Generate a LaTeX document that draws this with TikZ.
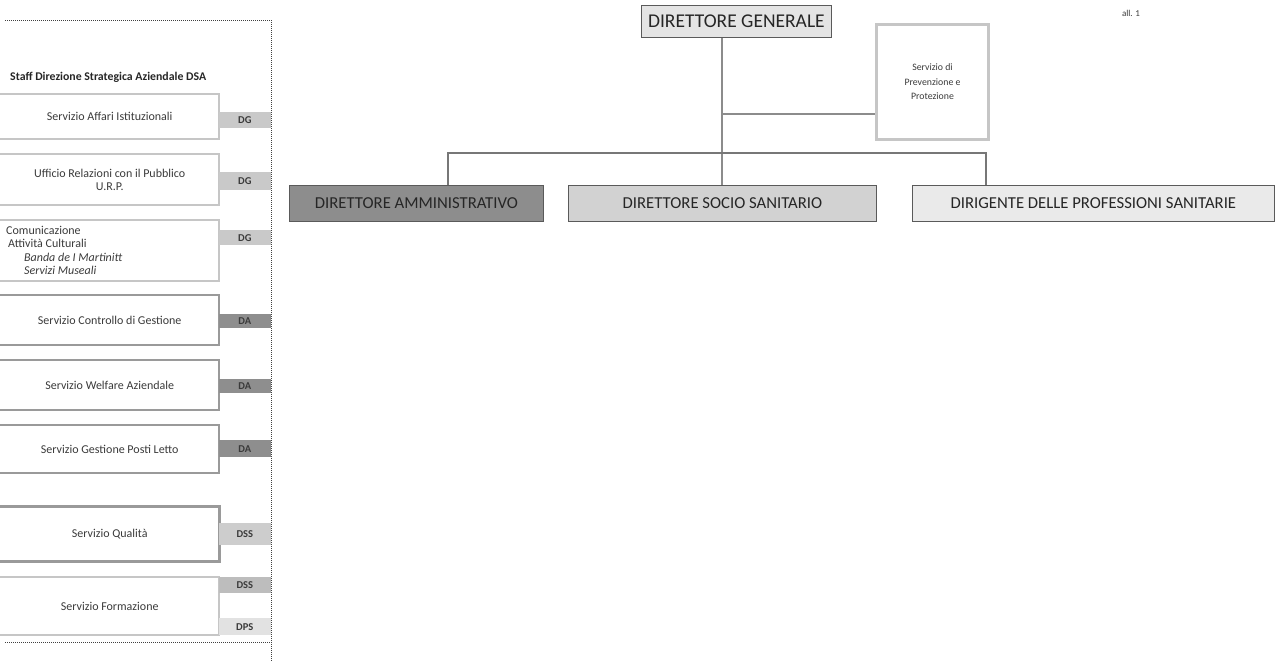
\documentclass[tikz,border=0pt]{standalone}
\usepackage{fontspec}
\setmainfont{Carlito}
\usetikzlibrary{positioning}

\definecolor{txtgray}{HTML}{3A3A3A}
\definecolor{txtdark}{HTML}{262626}
\definecolor{edgelight}{HTML}{C6C6C6}
\definecolor{edgedark}{HTML}{9A9A9A}
\definecolor{boxedge}{HTML}{5A5A5A}
\definecolor{linkgray}{HTML}{8C8C8C}
\definecolor{tagDG}{HTML}{C9C9C9}
\definecolor{tagDA}{HTML}{8E8E8E}
\definecolor{tagDSS}{HTML}{CDCDCD}
\definecolor{tagDPS}{HTML}{E2E2E2}
\definecolor{fillDG}{HTML}{E4E4E4}
\definecolor{fillDA}{HTML}{8D8D8D}
\definecolor{fillDSS}{HTML}{D2D2D2}
\definecolor{fillDPS}{HTML}{EAEAEA}

\begin{document}
\begin{tikzpicture}[x=1pt,y=-1pt,
  staffbox/.style={minimum width=219pt, inner sep=0pt, anchor=north west,
    font=\fontsize{12}{13.5}\selectfont, text=txtgray, align=center},
  tagbox/.style={minimum width=52pt, inner sep=0pt, anchor=north east,
    font=\fontsize{10.5}{11}\selectfont\bfseries, text=txtgray},
  headbox/.style={draw=boxedge, line width=0.8pt, inner sep=0pt, anchor=north west,
    font=\fontsize{16.7}{18}\selectfont, text=txtdark},
  link/.style={draw=linkgray, line width=2pt},
  frame/.style={draw=black!75, line width=0.8pt, dash pattern=on 1pt off 1pt}]

\useasboundingbox (0,0) rectangle (1276,661);

% Dotted frame of the staff panel
\draw[frame] (5,20) -- (271,20) -- (271,661);
\draw[frame] (5,642) -- (271,642);

% Title of the staff panel
\node[anchor=west, inner sep=0pt, font=\fontsize{11.8}{13}\selectfont\bfseries, text=txtdark]
  (staff) at (10,77) {Staff Direzione Strategica Aziendale DSA};

% Staff boxes (open on the left)
\node[staffbox, minimum height=45pt] (affari) at (0,94) {Servizio Affari Istituzionali};
\node[staffbox, minimum height=51pt] (urp) at (0,154) {Ufficio Relazioni con il Pubblico\\U.R.P.};
\node[staffbox, minimum height=61pt] (comunic) at (0,220) {};
\node[anchor=north west, inner sep=0pt, align=left, text=txtgray,
  font=\fontsize{12}{12.8}\selectfont] (comtext) at (6,226)
  {Comunicazione\\
   \hspace*{2pt}Attività Culturali\\[1.5pt]
   \hspace*{18pt}\textit{Banda de I Martinitt}\\
   \hspace*{18pt}\textit{Servizi Museali}};
\node[staffbox, minimum height=50pt] (controllo) at (0,295) {Servizio Controllo di Gestione};
\node[staffbox, minimum height=50pt] (welfare) at (0,360) {Servizio Welfare Aziendale};
\node[staffbox, minimum height=48pt] (postiletto) at (0,425) {Servizio Gestione Posti Letto};
\node[staffbox, minimum height=55pt] (qualita) at (0,506) {Servizio Qualità};
\node[staffbox, minimum height=58pt] (formazione) at (0,577) {Servizio Formazione};

\draw[draw=edgelight, line width=2pt] (affari.north west) -| (affari.south east) -- (affari.south west);
\draw[draw=edgelight, line width=2pt] (urp.north west) -| (urp.south east) -- (urp.south west);
\draw[draw=edgelight, line width=2pt] (comunic.north west) -| (comunic.south east) -- (comunic.south west);
\draw[draw=edgedark, line width=2pt] (controllo.north west) -| (controllo.south east) -- (controllo.south west);
\draw[draw=edgedark, line width=2pt] (welfare.north west) -| (welfare.south east) -- (welfare.south west);
\draw[draw=edgedark, line width=2pt] (postiletto.north west) -| (postiletto.south east) -- (postiletto.south west);
\draw[draw=edgedark, line width=3pt] (qualita.north west) -| (qualita.south east) -- (qualita.south west);
\draw[draw=edgelight, line width=2pt] (formazione.north west) -| (formazione.south east) -- (formazione.south west);

% Tags of the reporting direction
\node[tagbox, fill=tagDG, minimum height=16pt] (tagaffari) at (271,112) {DG};
\node[tagbox, fill=tagDG, minimum height=18pt] (tagurp) at (271,172) {DG};
\node[tagbox, fill=tagDG, minimum height=15pt] (tagcomunic) at (271,230) {DG};
\node[tagbox, fill=tagDA, minimum height=14pt] (tagcontrollo) at (271,314) {DA};
\node[tagbox, fill=tagDA, minimum height=14pt] (tagwelfare) at (271,379) {DA};
\node[tagbox, fill=tagDA, minimum height=17pt] (tagpostiletto) at (271,440) {DA};
\node[tagbox, fill=tagDSS, minimum height=22pt] (tagqualita) at (271,523) {DSS};
\node[tagbox, fill=tagDSS!92!black, minimum height=16pt] (tagformdss) at (271,577) {DSS};
\node[tagbox, fill=tagDPS, minimum height=17pt] (tagformdps) at (271,618) {DPS};

% Top management
\node[headbox, fill=fillDG, minimum width=190pt, minimum height=32pt,
  font=\fontsize{19.5}{21}\selectfont] (dirgen) at (641,5) {DIRETTORE GENERALE};
\node[draw=edgelight, line width=3pt, fill=white, anchor=north west, inner sep=0pt,
  minimum width=112pt, minimum height=115pt, align=center, text=txtgray,
  font=\fontsize{9.8}{14.5}\selectfont] (spp) at (875,23)
  {Servizio di\\Prevenzione e\\Protezione};
\node[headbox, fill=fillDA, minimum width=254pt, minimum height=36pt] (dirama) at (289,185) {DIRETTORE AMMINISTRATIVO};
\node[headbox, fill=fillDSS, minimum width=308pt, minimum height=36pt] (dirsan) at (568,185) {DIRETTORE SOCIO SANITARIO};
\node[headbox, fill=fillDPS, minimum width=362pt, minimum height=36pt] (dirprof) at (912,185) {DIRIGENTE DELLE PROFESSIONI SANITARIE};

% Connectors
\coordinate (sppjoin) at (722,114);
\coordinate (busL) at (448,153);
\coordinate (busR) at (986,153);
\draw[link] (dirsan.north) -- (dirsan.north |- dirgen.south);
\draw[link] (sppjoin) -- (sppjoin -| spp.west);
\draw[link, draw=linkgray!85!black] (busL |- dirama.north) -- (busL) -- (busR) -- (busR |- dirprof.north);

% Annex mark
\node[font=\fontsize{9}{10}\selectfont, text=txtgray] (allegato) at (1131,13) {all. 1};

\end{tikzpicture}
\end{document}
